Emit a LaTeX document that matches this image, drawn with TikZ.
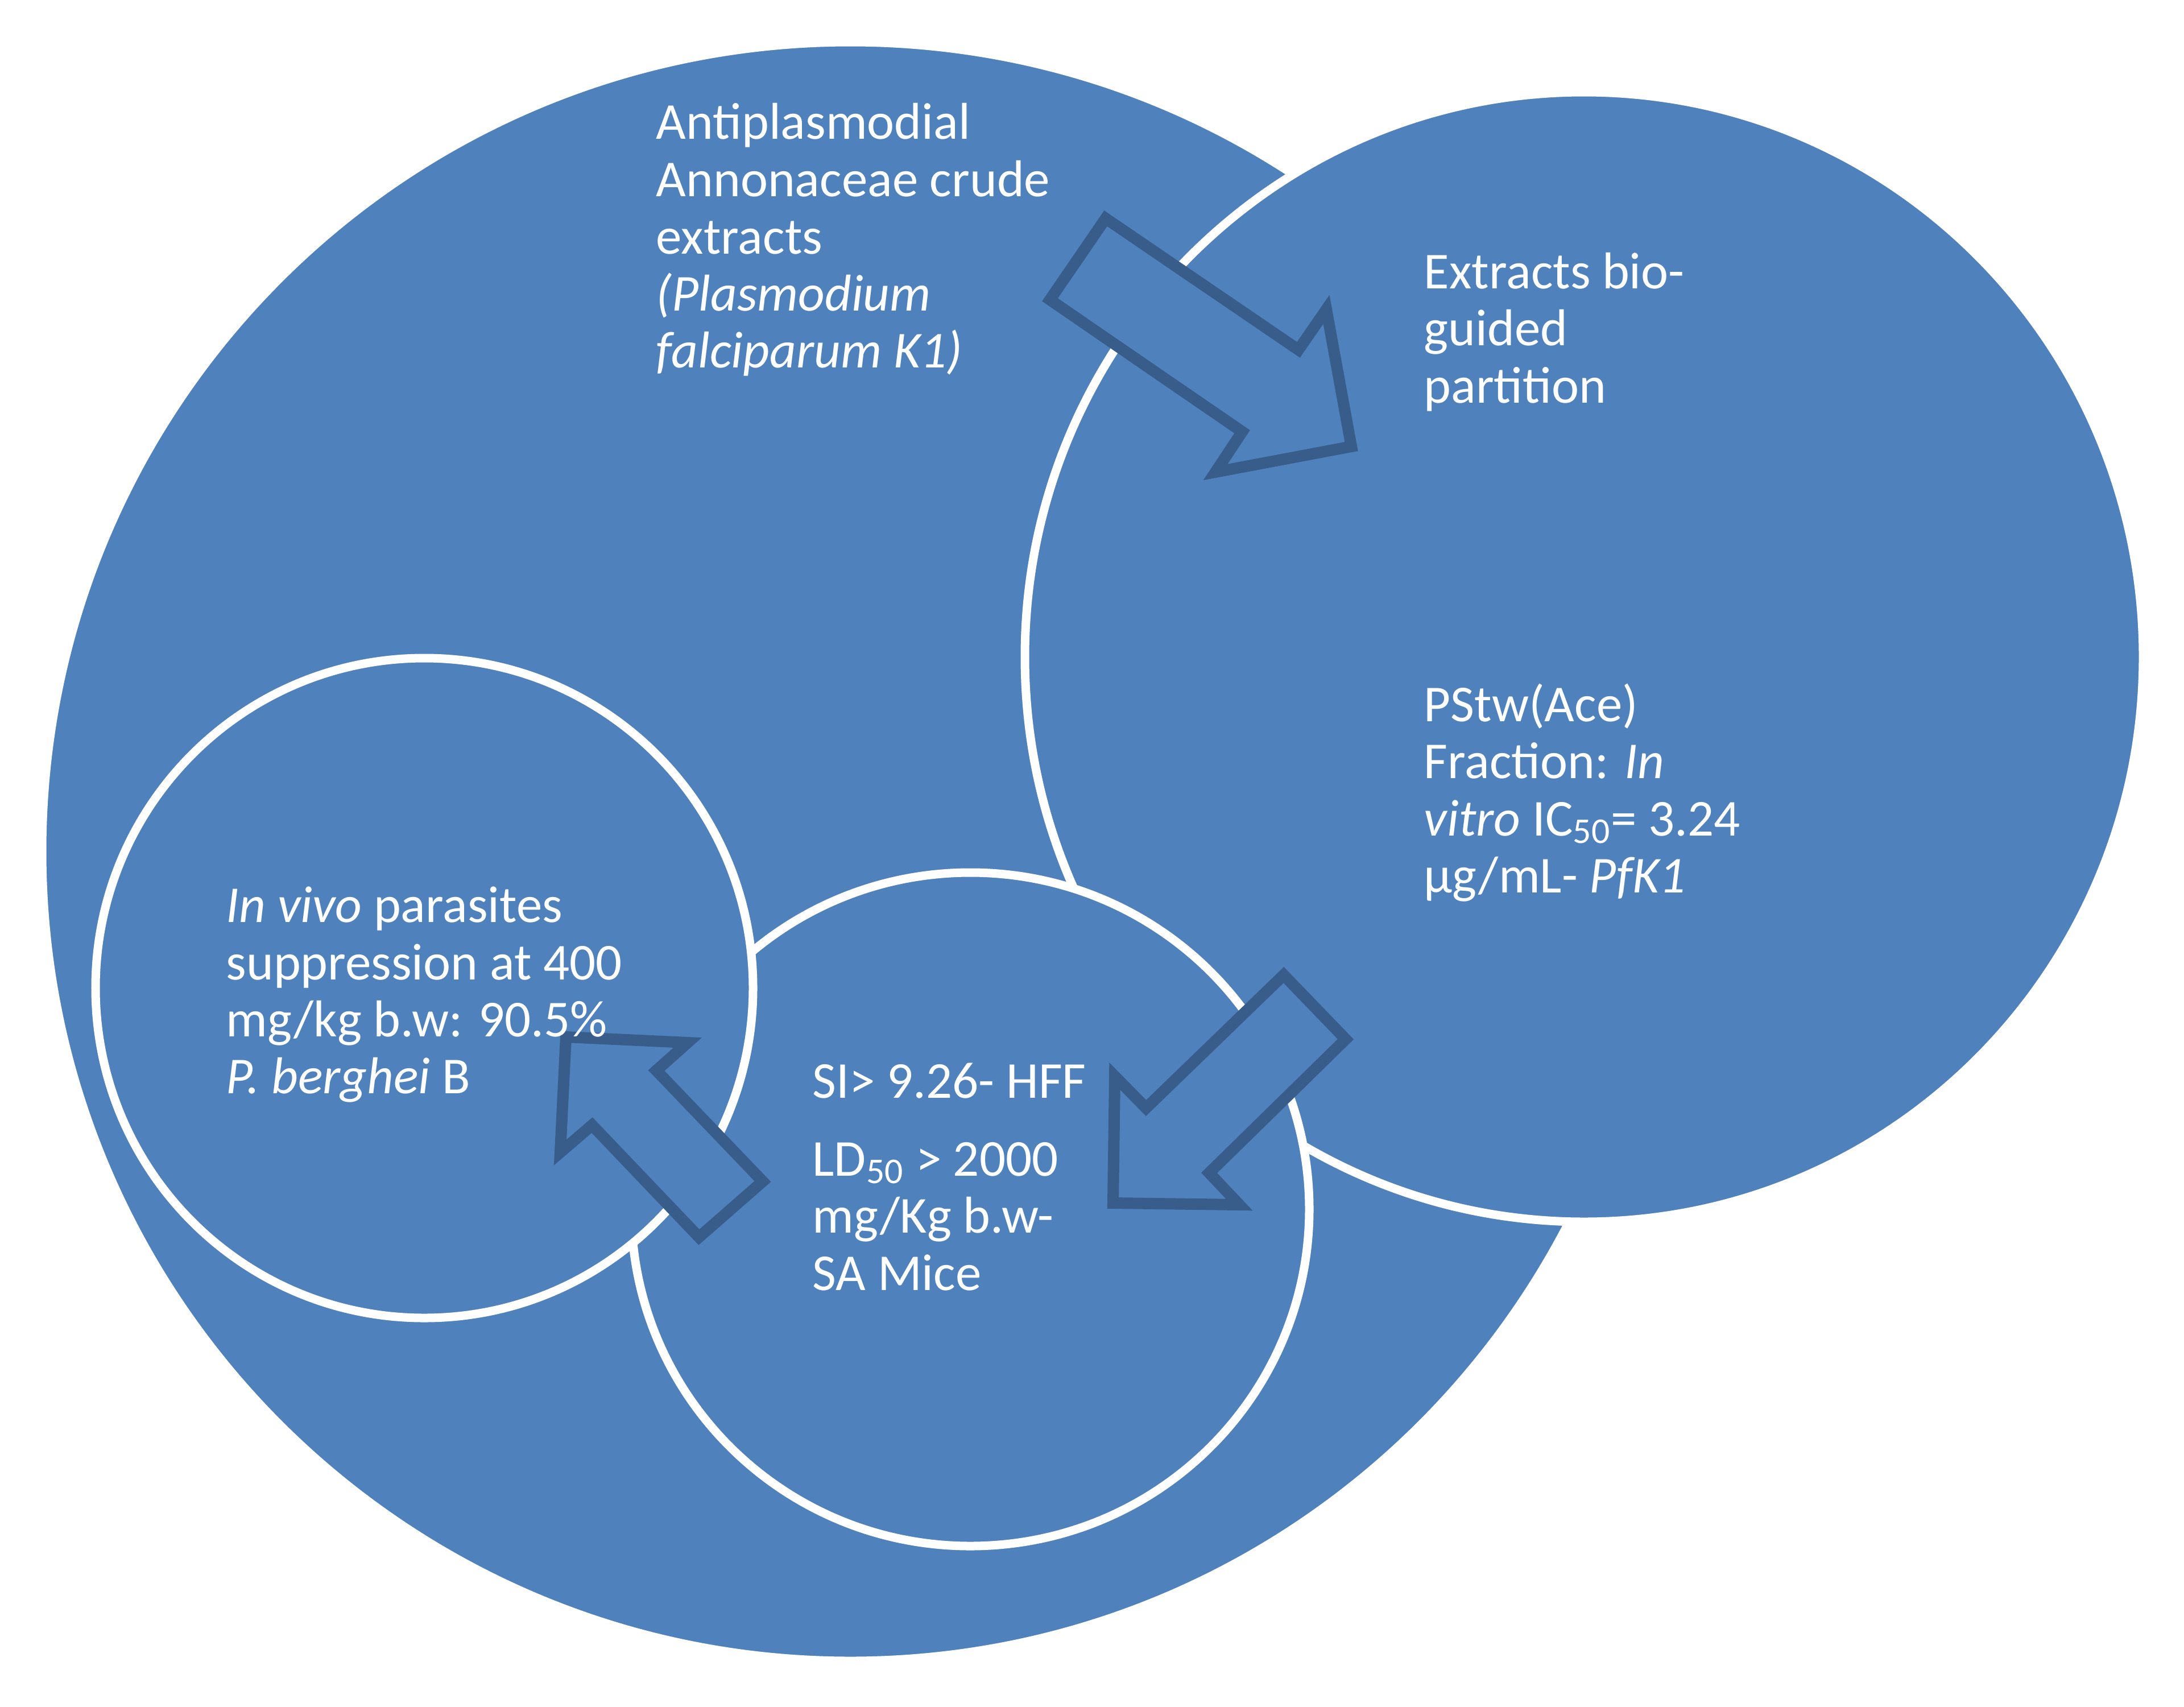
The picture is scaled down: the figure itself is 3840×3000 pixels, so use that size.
\documentclass[tikz,border=0pt]{standalone}
\usepackage{fontspec}
\setmainfont{Carlito}
\definecolor{fillblue}{HTML}{4F81BD}
\definecolor{arrowline}{HTML}{385D8A}
\begin{document}
\begin{tikzpicture}[x=0.01cm,y=-0.01cm,
  bubble/.style={fill=fillblue, draw=white, line width=0.15cm},
  blockarrow/.style={fill=fillblue, draw=arrowline, line width=0.2cm, line join=miter},
  txt/.style={anchor=base west, inner sep=0pt, text=white, font=\fontsize{25.9pt}{28.45pt}\selectfont}]
\useasboundingbox (0,0) rectangle (3840,3000);
\fill[white] (0,0) rectangle (3840,3000);
% circles
\path[bubble] (1495,1497) ellipse [x radius=1421, y radius=1423];
\path[bubble] (2785,1155) ellipse [x radius=983, y radius=993];
\path[bubble] (1706,2126) ellipse [x radius=596, y radius=592];
\path[bubble] (746,1737) ellipse [x radius=578, y radius=580];
% block arrows
\path[blockarrow] (1846,527) -- (1944,384) -- (2283,615) -- (2332,544) -- (2376,785) -- (2137,830) -- (2184,759) -- cycle;
\path[blockarrow] (2257,1714) -- (2366,1827) -- (2126,2062) -- (2179,2118) -- (1957,2115) -- (1960,1892) -- (2015,1948) -- cycle;
\path[blockarrow] (995,1823) -- (1209,1833) -- (1154,1882) -- (1341,2077) -- (1229,2175) -- (1041,1978) -- (985,2026) -- cycle;
% texts
\node[txt] (a1) at (1153,245) {Antiplasmodial};
\node[txt] (a2) at (1153,345) {Annonaceae crude};
\node[txt] (a3) at (1153,446) {extracts};
\node[txt] (a4) at (1153,546) {\textit{(Plasmodium}};
\node[txt] (a5) at (1153,646) {\textit{falciparum K1)}};
\node[txt] (b1) at (2503,507) {Extracts bio-};
\node[txt] (b2) at (2503,607) {guided};
\node[txt] (b3) at (2503,708) {partition};
\node[txt] (c1) at (2503,1268) {PStw(Ace)};
\node[txt] (c2) at (2503,1368) {Fraction: \textit{In}};
\node[txt] (c3) at (2503,1469) {\textit{vitro} IC\textsubscript{50}= 3.24};
\node[txt] (c4) at (2503,1569) {µg/mL- \textit{PfK1}};
\node[txt] (d1) at (397,1621) {\textit{In vivo} parasites};
\node[txt] (d2) at (397,1722) {suppression at 400};
\node[txt] (d3) at (397,1822) {mg/kg b.w: 90.5\%};
\node[txt] (d4) at (397,1922) {\textit{P. berghei} B};
\node[txt] (e1) at (1428,1930) {SI> 9.26- HFF};
\node[txt] (e2) at (1428,2067) {LD\textsubscript{50} > 2000};
\node[txt] (e3) at (1428,2167) {mg/Kg b.w-};
\node[txt] (e4) at (1428,2268) {SA Mice};
\end{tikzpicture}
\end{document}
